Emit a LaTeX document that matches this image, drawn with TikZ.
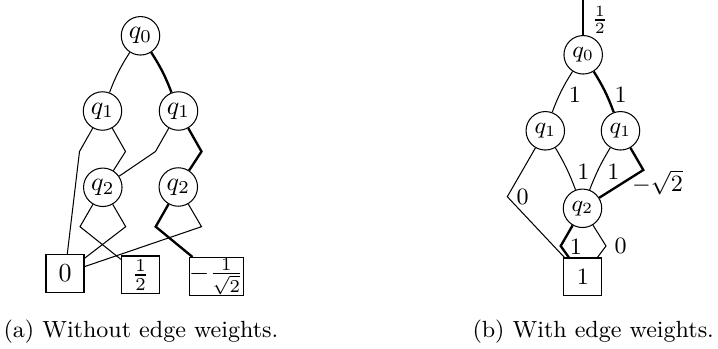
\documentclass[tikz,border=0pt]{standalone}

\tikzset{
  var/.style={draw, circle, inner sep=0pt, minimum size=14.8pt},
  term/.style={draw, inner sep=0pt, minimum size=14.6pt},
  hot/.style={line width=0.9pt},
  wt/.style={inner sep=0pt, font=\small},
  subcap/.style={anchor=west, inner sep=0pt, font=\small}
}

\begin{document}
\begin{tikzpicture}[x=0.3846pt, y=0.3846pt]
  \useasboundingbox (0,0) rectangle (718,-349);
  % without weights
  \node[var] (a0) at (140.5,-35.8) {$q_0$};
  \node[var] (a1) at (102.5,-111) {$q_1$};
  \node[var] (b1) at (178.5,-111) {$q_1$};
  \node[var] (a2) at (102.8,-187.3) {$q_2$};
  \node[var] (b2) at (178.3,-187) {$q_2$};
  \node[term] (t0) at (65,-273.3) {$0$};
  \node[term] (th) at (140.5,-275) {$\frac{1}{2}$};
  \node[term] (tm) at (216.2,-276.5) {$-\frac{1}{\sqrt{2}}$};
  \coordinate (a1l) at (79.5,-151.5);
  \coordinate (a1r) at (125.5,-151.5);
  \coordinate (b1l) at (155.5,-151.5);
  \coordinate (b1r) at (201.5,-151.5);
  \coordinate (a2l) at (80,-226.7);
  \coordinate (a2r) at (125.7,-226.7);
  \coordinate (b2l) at (155.7,-226.7);
  \coordinate (b2r) at (201.5,-226.7);
  \draw (a0) to[bend right=6] (a1);
  \draw[hot] (a0) to[bend left=6] (b1);
  \draw (a1) -- (a1l) -- (t0);
  \draw (a1) -- (a1r) -- (a2);
  \draw (b1) -- (b1l) -- (a2);
  \draw[hot] (b1) -- (b1r) -- (b2);
  \draw (a2) -- (a2l) -- (th);
  \draw (a2) -- (a2r) -- (t0);
  \draw[hot] (b2) -- (b2l) -- (tm);
  \draw (b2) -- (b2r) -- (t0);
  \node[subcap] (capa) at (3,-332) {(a) Without edge weights.};
  % with weights
  \begin{scope}[every node/.append style={font=\small}]
    \coordinate (rtop) at (583.2,0);
    \node[var] (r0) at (583.2,-54.8) {$q_0$};
    \node[var] (r1) at (545.3,-130.8) {$q_1$};
    \node[var] (s1) at (620.5,-130.8) {$q_1$};
    \node[var] (r2) at (582.5,-208.3) {$q_2$};
    \node[term] (rt) at (582.8,-277) {$1$};
    \coordinate (r1l) at (507.3,-196.7);
    \coordinate (s1r) at (643.3,-170);
    \coordinate (r2l) at (560.7,-246);
    \coordinate (r2r) at (606,-246);
    \draw[hot] (rtop) -- (r0);
    \draw (r0) to[bend right=6] (r1);
    \draw[hot] (r0) to[bend left=6] (s1);
    \draw (r1) -- (r1l) -- (rt);
    \draw (r1) to[bend left=5] (r2);
    \draw (s1) to[bend right=5] (r2);
    \draw[hot] (s1) -- (s1r) -- (r2);
    \draw[hot] (r2) -- (r2l) -- (rt);
    \draw (r2) -- (r2r) -- (rt);
    \node[wt] (wtop) at (600,-20) {$\frac{1}{2}$};
    \node[wt] (w01) at (575,-95) {$1$};
    \node[wt] (w02) at (620.7,-95) {$1$};
    \node[wt] (w11) at (522.7,-197.3) {$0$};
    \node[wt] (w12) at (583.3,-171.7) {$1$};
    \node[wt] (w13) at (613.3,-171.7) {$1$};
    \node[wt] (w14) at (657.5,-182.5) {$-\sqrt{2}$};
    \node[wt] (w21) at (576,-246.7) {$1$};
    \node[wt] (w22) at (620.7,-246) {$0$};
  \end{scope}
  \node[subcap] (capb) at (472,-332) {(b) With edge weights.};
\end{tikzpicture}
\end{document}
